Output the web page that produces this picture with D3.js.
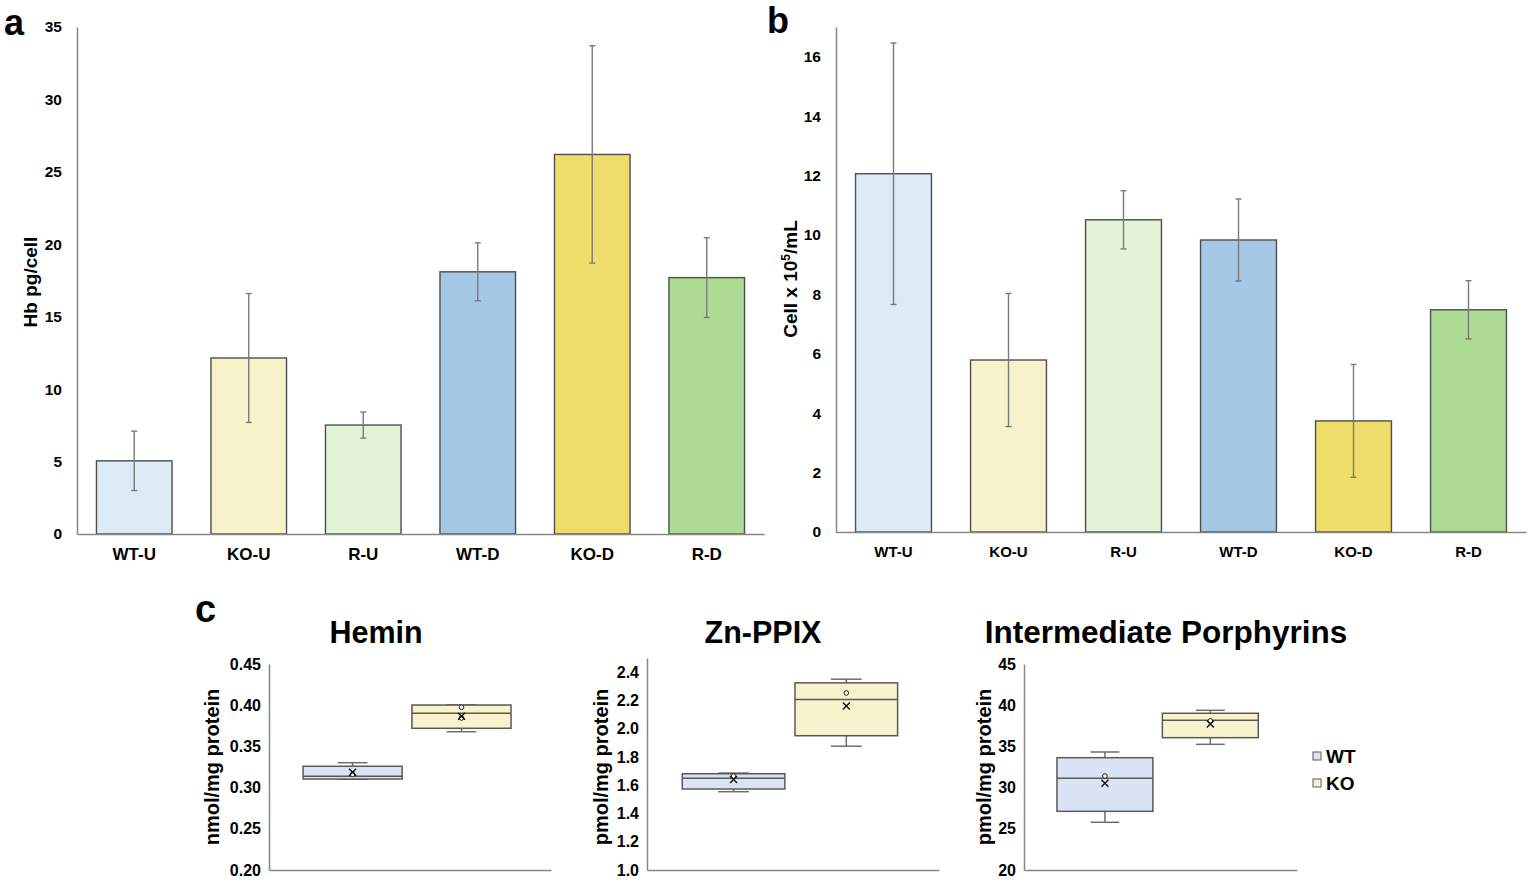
<!DOCTYPE html>
<html>
<head>
<meta charset="utf-8">
<script src="https://cdn.jsdelivr.net/npm/d3@7"></script>
<style>
    body { margin: 0; background: #ffffff; }
    svg { display: block; }
    text { font-family: "Liberation Sans", Arial, sans-serif; font-weight: bold; fill: #000000; }
</style>
</head>
<body>
<svg id="figure" width="1530" height="882"></svg>
<script>
/*--------------------------------------------------------------------------------
----- DATA
--------------------------------------------------------------------------------*/

// Bar categories shared by panels a and b
const categories = ["WT-U", "KO-U", "R-U", "WT-D", "KO-D", "R-D"];

// Panel a : Hb pg/cell (mean and error)
const hb_means = [5.05, 12.15, 7.52, 18.1, 26.2, 17.7];
const hb_errors = [2.05, 4.45, 0.9, 2.0, 7.5, 2.75];

// Panel b : Cell x 10^5/mL (mean and error)
const cell_means = [12.06, 5.79, 10.51, 9.83, 3.74, 7.48];
const cell_errors = [4.4, 2.24, 0.98, 1.38, 1.9, 0.98];

// Bar fill colours (one per category)
const bar_colors = ["#ddebf7", "#f8f2cb", "#e2f3da", "#a4c8e6", "#eedc6b", "#addb93"];

// Panel c : box groups
const box_groups = ["WT", "KO"];
const box_colors = ["#dae3f3", "#f9f3cd"];

// Box stats per group : [min, q1, median, q3, max]
const hemin_box = [[0.3101, 0.3104, 0.3137, 0.3259, 0.3302], [0.3678, 0.3720, 0.3902, 0.4002, 0.4003]];
const hemin_mean = [0.3185, 0.3865];
const hemin_points = [[0.3160], [0.3975, 0.3845]];

const zn_box = [[1.554, 1.573, 1.650, 1.681, 1.686], [1.876, 1.950, 2.206, 2.324, 2.350]];
const zn_mean = [1.641, 2.160];
const zn_points = [[1.664], [2.253]];

const inter_box = [[25.79, 27.12, 31.13, 33.63, 34.32], [35.25, 36.06, 38.17, 39.02, 39.38]];
const inter_mean = [30.52, 37.72];
const inter_points = [[31.41], [38.10]];

/*--------------------------------------------------------------------------------
----- HELPERS
--------------------------------------------------------------------------------*/

const svg = d3.select("#figure");
const axis_color = "#868686";

// Style an axis group : grey line, bold black labels
function style_axis(g, font_size) {
    g.select(".domain").attr("stroke", axis_color).attr("stroke-width", 1.5);
    g.selectAll(".tick line").remove();
    g.selectAll(".tick text")
        .style("font-size", font_size + "px")
        .style("font-family", "'Liberation Sans', Arial, sans-serif")
        .style("font-weight", "bold")
        .attr("fill", "#000");
}

// Function to draw a bar chart with error bars (panels a and b)
function draw_bar_panel(cfg) {
    const g = svg.append("g");

    const x = d3.scaleBand()
        .domain(categories)
        .range([cfg.left, cfg.right])
        .paddingInner(0.34)
        .paddingOuter(0.17);

    const y = d3.scaleLinear()
        .domain(cfg.domain)
        .range([cfg.bottom, cfg.top]);

    // Bars
    g.selectAll(".bar")
        .data(cfg.means)
        .enter()
        .append("rect")
        .attr("class", "bar")
        .attr("x", (d, i) => x(categories[i]))
        .attr("y", d => y(d))
        .attr("width", x.bandwidth())
        .attr("height", d => y(0) - y(d))
        .attr("fill", (d, i) => bar_colors[i])
        .attr("stroke", "#4d4d4d")
        .attr("stroke-width", 1.4);

    // Error bars
    const err = g.selectAll(".err")
        .data(cfg.means)
        .enter()
        .append("g")
        .attr("class", "err")
        .attr("transform", (d, i) => "translate(" + (x(categories[i]) + x.bandwidth() / 2) + ",0)");

    err.append("line")
        .attr("y1", (d, i) => y(d + cfg.errors[i]))
        .attr("y2", (d, i) => y(d - cfg.errors[i]))
        .attr("stroke", "#7a7a7a").attr("stroke-width", 1.4);
    err.append("line")
        .attr("x1", -3).attr("x2", 3)
        .attr("y1", (d, i) => y(d + cfg.errors[i]))
        .attr("y2", (d, i) => y(d + cfg.errors[i]))
        .attr("stroke", "#7a7a7a").attr("stroke-width", 1.4);
    err.append("line")
        .attr("x1", -3).attr("x2", 3)
        .attr("y1", (d, i) => y(d - cfg.errors[i]))
        .attr("y2", (d, i) => y(d - cfg.errors[i]))
        .attr("stroke", "#7a7a7a").attr("stroke-width", 1.4);

    // Axes
    g.append("g")
        .attr("transform", "translate(" + cfg.left + ",0)")
        .call(d3.axisLeft(y).tickValues(cfg.ticks).tickSize(0).tickSizeOuter(0).tickPadding(15))
        .call(a => style_axis(a, 15.5));

    g.append("g")
        .attr("transform", "translate(0," + cfg.bottom + ")")
        .call(d3.axisBottom(x).tickSize(0).tickSizeOuter(0).tickPadding(14))
        .call(a => style_axis(a, cfg.cat_font));

    // Axis title
    const title = g.append("text")
        .attr("transform", "translate(" + cfg.title_x + "," + cfg.title_y + ") rotate(-90)")
        .attr("text-anchor", "middle")
        .attr("dy", "0.35em")
        .style("font-size", "19px");
    cfg.title(title);

    // Panel letter
    g.append("text")
        .attr("x", cfg.letter_x).attr("y", cfg.letter_y)
        .style("font-size", "36px")
        .text(cfg.letter);
}

// Function to draw a box-and-whisker panel (panel c)
function draw_box_panel(cfg) {
    const g = svg.append("g");

    const x = d3.scaleBand()
        .domain(box_groups)
        .range([cfg.left, cfg.right])
        .paddingInner(0.09)
        .paddingOuter(0.34)
        .align(0.46);

    const y = d3.scaleLinear()
        .domain(cfg.domain)
        .range([870, cfg.top]);

    const bw = x.bandwidth();

    const boxes = g.selectAll(".box")
        .data(cfg.stats)
        .enter()
        .append("g")
        .attr("class", "box")
        .attr("transform", (d, i) => "translate(" + x(box_groups[i]) + ",0)");

    // Whiskers (vertical)
    boxes.append("line")
        .attr("x1", bw / 2).attr("x2", bw / 2)
        .attr("y1", d => y(d[0])).attr("y2", d => y(d[1]))
        .attr("stroke", "#6e6e6e").attr("stroke-width", 1.5);
    boxes.append("line")
        .attr("x1", bw / 2).attr("x2", bw / 2)
        .attr("y1", d => y(d[3])).attr("y2", d => y(d[4]))
        .attr("stroke", "#6e6e6e").attr("stroke-width", 1.5);
    // Whisker caps
    boxes.append("line")
        .attr("x1", bw * 0.35).attr("x2", bw * 0.65)
        .attr("y1", d => y(d[0])).attr("y2", d => y(d[0]))
        .attr("stroke", "#6e6e6e").attr("stroke-width", 1.5);
    boxes.append("line")
        .attr("x1", bw * 0.35).attr("x2", bw * 0.65)
        .attr("y1", d => y(d[4])).attr("y2", d => y(d[4]))
        .attr("stroke", "#6e6e6e").attr("stroke-width", 1.5);

    // Box body
    boxes.append("rect")
        .attr("x", 0).attr("width", bw)
        .attr("y", d => y(d[3]))
        .attr("height", d => y(d[1]) - y(d[3]))
        .attr("fill", (d, i) => box_colors[i])
        .attr("stroke", "#595959").attr("stroke-width", 1.5);

    // Median
    boxes.append("line")
        .attr("x1", 0).attr("x2", bw)
        .attr("y1", d => y(d[2])).attr("y2", d => y(d[2]))
        .attr("stroke", "#595959").attr("stroke-width", 1.5);

    // Inner points (small circles)
    boxes.each(function (d, i) {
        d3.select(this).selectAll(".pt")
            .data(cfg.points[i])
            .enter()
            .append("circle")
            .attr("class", "pt")
            .attr("cx", bw / 2)
            .attr("cy", v => y(v))
            .attr("r", 2.3)
            .attr("fill", "#ffffff")
            .attr("stroke", "#222")
            .attr("stroke-width", 1);
    });

    // Mean marker (X)
    boxes.append("path")
        .attr("d", (d, i) => {
            const cx = bw / 2, cy = y(cfg.means[i]), s = 3.5;
            return "M" + (cx - s) + "," + (cy - s) + "L" + (cx + s) + "," + (cy + s) +
                "M" + (cx - s) + "," + (cy + s) + "L" + (cx + s) + "," + (cy - s);
        })
        .attr("stroke", "#111").attr("stroke-width", 1.4);

    // Axes
    g.append("g")
        .attr("transform", "translate(" + cfg.left + ",0)")
        .call(d3.axisLeft(y).tickValues(cfg.ticks).tickFormat(d3.format(cfg.fmt)).tickSize(0).tickSizeOuter(0).tickPadding(8))
        .call(a => style_axis(a, 16));

    g.append("g")
        .attr("transform", "translate(0,870)")
        .call(d3.axisBottom(x).tickValues([]).tickSize(0).tickSizeOuter(0))
        .call(a => style_axis(a, 16));

    // Y axis title
    g.append("text")
        .attr("transform", "translate(" + cfg.ytitle_x + ",767) rotate(-90)")
        .attr("text-anchor", "middle")
        .attr("dy", "0.35em")
        .style("font-size", "20px")
        .text(cfg.ytitle);

    // Chart title
    g.append("text")
        .attr("x", cfg.title_x).attr("y", 643)
        .attr("text-anchor", "middle")
        .style("font-size", cfg.title_size + "px")
        .text(cfg.title);
}

/*--------------------------------------------------------------------------------
----- PANELS
--------------------------------------------------------------------------------*/

// Panel a
draw_bar_panel({
    means: hb_means, errors: hb_errors,
    left: 77, right: 764, top: 27, bottom: 534,
    domain: [0, 35], ticks: d3.range(0, 36, 5),
    cat_font: 17,
    title_x: 30, title_y: 282,
    title: t => t.text("Hb pg/cell"),
    letter: "a", letter_x: 4, letter_y: 35
});

// Panel b
draw_bar_panel({
    means: cell_means, errors: cell_errors,
    left: 836, right: 1526, top: 27, bottom: 532,
    domain: [0, 17], ticks: d3.range(0, 17, 2),
    cat_font: 15,
    title_x: 790, title_y: 279,
    title: t => {
        t.append("tspan").text("Cell x 10");
        t.append("tspan").attr("baseline-shift", "super").style("font-size", "12px").text("5");
        t.append("tspan").text("/mL");
    },
    letter: "b", letter_x: 767, letter_y: 33
});

// Panel c letter
svg.append("text")
    .attr("x", 195).attr("y", 622)
    .style("font-size", "38px")
    .text("c");

draw_box_panel({
    stats: hemin_box, means: hemin_mean, points: hemin_points,
    left: 269, right: 551, top: 664,
    domain: [0.2, 0.45], ticks: d3.range(0.2, 0.451, 0.05), fmt: ".2f",
    ytitle: "nmol/mg protein", ytitle_x: 212,
    title: "Hemin", title_x: 376, title_size: 30.5
});

draw_box_panel({
    stats: zn_box, means: zn_mean, points: zn_points,
    left: 647, right: 939, top: 658,
    domain: [1.0, 2.5], ticks: d3.range(1.0, 2.41, 0.2), fmt: ".1f",
    ytitle: "pmol/mg protein", ytitle_x: 601,
    title: "Zn-PPIX", title_x: 763, title_size: 30.5
});

draw_box_panel({
    stats: inter_box, means: inter_mean, points: inter_points,
    left: 1024, right: 1297, top: 664,
    domain: [20, 45], ticks: d3.range(20, 46, 5), fmt: "d",
    ytitle: "pmol/mg protein", ytitle_x: 984,
    title: "Intermediate Porphyrins", title_x: 1166, title_size: 31.5
});

// Legend
const legend = svg.append("g").attr("transform", "translate(1313,752)");
const legend_items = legend.selectAll(".item")
    .data(box_groups)
    .enter()
    .append("g")
    .attr("class", "item")
    .attr("transform", (d, i) => "translate(0," + (i * 27) + ")");
legend_items.append("rect")
    .attr("width", 8).attr("height", 8)
    .attr("fill", (d, i) => box_colors[i])
    .attr("stroke", "#595959").attr("stroke-width", 1);
legend_items.append("text")
    .attr("x", 13).attr("y", 4)
    .attr("dy", "0.36em")
    .style("font-size", "19px")
    .text(d => d);
</script>
</body>
</html>
